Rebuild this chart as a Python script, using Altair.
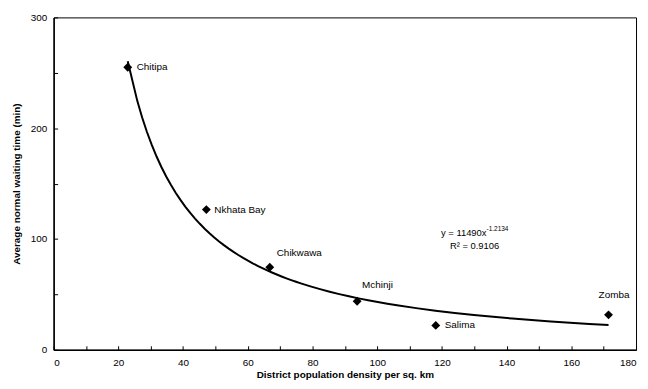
import altair as alt
import pandas as pd

# ---- data ----
districts = ["Chitipa", "Nkhata Bay", "Chikwawa", "Mchinji", "Salima", "Zomba"]
density = [22.9, 47.2, 66.8, 93.8, 118.1, 171.5]
waiting = [255.0, 126.5, 74.5, 43.8, 22.0, 31.5]

x_label_values = list(range(0, 181, 20))
x_tick_values = list(range(0, 181, 10))
y_label_values = [0, 100, 200, 300]
y_tick_values = list(range(0, 301, 50))

eq_main = "y = 11490x"
eq_exp = "-1.2134"
eq_r2 = "R\u00b2 = 0.9106"
eq_anchor_x = [133.8, 130.1]
eq_anchor_y = [105.5, 93.8]

df = pd.DataFrame({"district": districts, "x": density, "y": waiting})

FONT = "Liberation Sans"
W, H = 587, 335

xs = alt.Scale(domain=[0, 180], nice=False, zero=False)
ys = alt.Scale(domain=[0, 300], nice=False, zero=False)

x_main = alt.Axis(orient="bottom", values=x_label_values, ticks=False, tickSize=0,
                  labelPadding=8, title="District population density per sq. km",
                  titlePadding=2, domainColor="black", domainWidth=1.5)
y_main = alt.Axis(orient="left", values=y_label_values, ticks=False, tickSize=0,
                  labelPadding=7, title="Average normal waiting time (min)",
                  titlePadding=9, domainColor="black", domainWidth=1.5)

x_minor = alt.Axis(orient="top", offset=-H, values=x_tick_values, labels=False,
                   domain=False, ticks=True, tickSize=4, tickColor="black",
                   tickWidth=1, title=None)
y_minor = alt.Axis(orient="right", offset=-W, values=y_tick_values, labels=False,
                   domain=False, ticks=True, tickSize=4, tickColor="black",
                   tickWidth=1, title=None)

base = alt.Chart(df)

trend = base.transform_regression("x", "y", method="pow").mark_line(
    color="black", strokeWidth=2
).encode(
    x=alt.X("x:Q", scale=xs, axis=x_minor),
    y=alt.Y("y:Q", scale=ys, axis=y_minor),
)

points = base.mark_point(shape="diamond", filled=True, color="black", size=80, opacity=1).encode(
    x=alt.X("x:Q", scale=xs, axis=x_main),
    y=alt.Y("y:Q", scale=ys, axis=y_main),
)

label_offsets = {
    "Chitipa": (9, 0),
    "Nkhata Bay": (8, 0),
    "Chikwawa": (7, -14),
    "Mchinji": (5, -16),
    "Salima": (9, 0),
    "Zomba": (-10, -20),
}

label_layers = []
for name, (ddx, ddy) in label_offsets.items():
    label_layers.append(
        base.transform_filter(alt.datum.district == name).mark_text(
            align="left", baseline="middle", dx=ddx, dy=ddy, font=FONT,
            fontSize=10, color="black"
        ).encode(
            x=alt.X("x:Q", scale=xs, axis=None),
            y=alt.Y("y:Q", scale=ys, axis=None),
            text="district:N",
        )
    )

eq_df = pd.DataFrame({"x": [eq_anchor_x[0]], "y": [eq_anchor_y[0]], "t": [eq_main], "e": [eq_exp]})
r2_df = pd.DataFrame({"x": [eq_anchor_x[1]], "y": [eq_anchor_y[1]], "t": [eq_r2]})

eq1 = alt.Chart(eq_df).mark_text(align="right", baseline="middle", font=FONT,
                                  fontSize=9.5, color="black").encode(
    x=alt.X("x:Q", scale=xs, axis=None), y=alt.Y("y:Q", scale=ys, axis=None), text="t:N")
eq_sup = alt.Chart(eq_df).mark_text(align="left", baseline="middle", font=FONT,
                                     fontSize=6.5, dy=-4, color="black").encode(
    x=alt.X("x:Q", scale=xs, axis=None), y=alt.Y("y:Q", scale=ys, axis=None), text="e:N")
eq2 = alt.Chart(r2_df).mark_text(align="center", baseline="middle", font=FONT,
                                  fontSize=9.5, color="black").encode(
    x=alt.X("x:Q", scale=xs, axis=None), y=alt.Y("y:Q", scale=ys, axis=None), text="t:N")

chart = alt.layer(trend, points, *label_layers, eq1, eq_sup, eq2).resolve_axis(
    x="independent", y="independent"
).properties(
    width=W, height=H,
    autosize=alt.AutoSizeParams(type="none"),
    padding={"left": 46, "top": 8, "right": 4, "bottom": 30},
).configure_view(
    stroke="black", strokeWidth=1
).configure_axis(
    grid=False, labelFont=FONT, labelFontSize=10, labelColor="black",
    titleFont=FONT, titleFontSize=10, titleFontWeight="bold", titleColor="black",
)

chart.save("out.html", embed_options={"renderer": "svg", "actions": False})
